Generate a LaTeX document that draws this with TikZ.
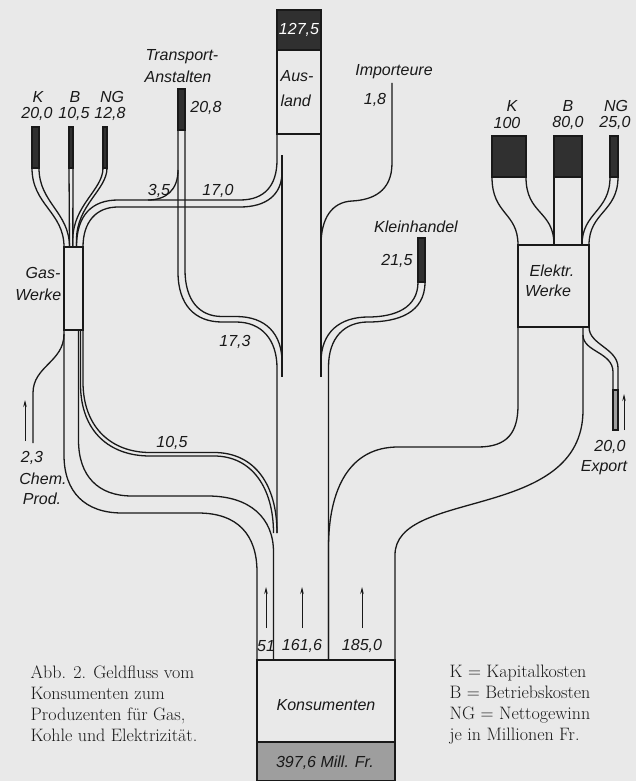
\documentclass[tikz,border=0pt]{standalone}
\usepackage{fontspec}
\newfontfamily\lab{Liberation Sans}
\usetikzlibrary{arrows.meta}
\definecolor{bg}{RGB}{233,233,233}
\definecolor{ink}{RGB}{25,25,25}
\definecolor{dk}{RGB}{48,48,48}
\definecolor{hatchc}{RGB}{158,158,158}
\begin{document}
\begin{tikzpicture}[x=1pt,y=-1pt,line width=1.3pt,
  lbl/.style={font=\lab\itshape\fontsize{16}{16}\selectfont,text=ink,inner sep=0pt},
  wlbl/.style={lbl,text=white},
  captxt/.style={font=\fontsize{18}{22}\selectfont,text=ink,inner sep=0pt,anchor=base west},
  ln/.style={draw=ink,line width=1.3pt},
  upar/.style={draw=ink,line width=0.8pt,-{Stealth[length=7pt,width=3.5pt]}}]
\fill[bg] (0,0) rectangle (636,781);
\useasboundingbox (0,0) rectangle (636,781);

% ---------- Ausland column ----------
\fill[dk] (277,10) rectangle (321,50);
\draw[ln] (277,10) rectangle (321,134);
\draw[ln] (277,50) -- (321,50);
\draw[ln] (321,134) -- (321,377);
\node[wlbl] (v127) at (299,30) {127,5};
\node[lbl,anchor=west] (aus1) at (280,76) {Aus-};
\node[lbl,anchor=west] (aus2) at (280,101) {land};

% ---------- Gas works ----------
\draw[ln] (64,247) rectangle (83,330);
\node[lbl,anchor=east] (gas1) at (61,273) {Gas-};
\node[lbl,anchor=east] (gas2) at (62,295) {Werke};

\fill[dk] (32,127) rectangle (39,168);
\fill[dk] (69,127) rectangle (73,168);
\fill[dk] (103,127) rectangle (107,168);
\draw[ln] (32,127) rectangle (39,168);
\draw[ln] (69,127) rectangle (73,168);
\draw[ln] (103,127) rectangle (107,168);
\node[lbl] (gk) at (38,97) {K};
\node[lbl] (gkv) at (37,114) {20,0};
\node[lbl] (gb) at (75,97) {B};
\node[lbl] (gbv) at (74,114) {10,5};
\node[lbl] (gng) at (112,97) {NG};
\node[lbl] (gngv) at (110,114) {12,8};

\draw[ln] (32,168) .. controls (32,205) and (64,212) .. (64,247);
\draw[ln] (39,168) .. controls (39,203) and (69.5,212) .. (69.5,247);
\draw[ln] (69,168) -- (69.5,247);
\draw[ln] (73,168) -- (72.8,247);
\draw[ln] (103,168) .. controls (103,190) and (72.8,205) .. (72.8,240) -- (72.8,247);
\draw[ln] (107,168) .. controls (107,190) and (76.5,205) .. (76.5,240) -- (76.5,247);

% outflow 17,0 (+3,5) to Ausland
\draw[ln] (76.5,247) .. controls (76.5,215) and (92,200) .. (118,200) -- (240,200) .. controls (265,200) and (277,185) .. (277,160) -- (277,134);
\draw[ln] (83,247) .. controls (83,222) and (96,207) .. (118,207) -- (240,207) .. controls (266,207) and (282,195) .. (282,172);
\draw[ln] (282,155) -- (282,377);
\node[lbl] (v170) at (218,191) {17,0};
\node[lbl] (v35) at (159,191) {3,5};

% ---------- Transport-Anstalten ----------
\fill[dk] (178,89) rectangle (185,130);
\draw[ln] (178,89) rectangle (185,130);
\node[lbl] (tr1) at (182,57) {Transport-};
\node[lbl] (tr2) at (178,77) {Anstalten};
\node[lbl] (v208) at (206,108) {20,8};
\draw[ln] (148,200) .. controls (166,200) and (178,190) .. (178,170);
\draw[ln] (178,130) -- (178,272) .. controls (178,305) and (195,322) .. (222,322) -- (236,322) .. controls (262,322) and (277,340) .. (277,368) -- (277,533);
\draw[ln] (185,130) -- (185,270) .. controls (185,300) and (199,316.5) .. (222,316.5) -- (236,316.5) .. controls (266,316.5) and (282,334) .. (282,362);
\node[lbl] (v173) at (235,342) {17,3};

% ---------- Importeure ----------
\node[lbl] (imp) at (394,72) {Importeure};
\node[lbl] (v18) at (375,100) {1,8};
\draw[ln] (392,83) -- (392,163) .. controls (392,192) and (372,200) .. (352,201) .. controls (332,202) and (321,218) .. (321,245);

% ---------- Kleinhandel ----------
\node[lbl] (kl) at (416,227) {Kleinhandel};
\node[lbl] (v215) at (397,261) {21,5};
\fill[dk] (418,238) rectangle (425,282);
\draw[ln] (418,238) rectangle (425,282);
\draw[ln] (418,282) .. controls (418,308) and (395,317) .. (368,317) .. controls (340,317) and (321,332) .. (321,362);
\draw[ln] (425,282) .. controls (425,313) and (398,322) .. (368,322) .. controls (345,322) and (328.5,337) .. (328.5,367) -- (328.5,660);

% ---------- Chem. Prod. ----------
\draw[ln] (33,443) -- (33,393) .. controls (33,366) and (64,362) .. (64,334);
\coordinate (chA) at (25,441);
\coordinate (chB) at (25,400);
\draw[upar] (chA) -- (chB);
\node[lbl] (v23) at (32,458) {2,3};
\node[lbl] (chem) at (43,479) {Chem.};
\node[lbl] (prod) at (42,499) {Prod.};

% ---------- gas streams down (51 and 10,5) ----------
\draw[ln] (64,330) -- (64,455) .. controls (64,492) and (85,513) .. (122,513) -- (198,513) .. controls (238,513) and (257,535) .. (257,572) -- (257,660);
\draw[ln] (78.5,330) -- (78.5,440) .. controls (78.5,476) and (98,496) .. (132,496) -- (208,496) .. controls (250,496) and (273.5,518) .. (273.5,552) -- (273.5,660);
\draw[ln] (83,330) -- (83,382) .. controls (83,428) and (112,452.5) .. (150,452.5) -- (214,452.5) .. controls (255,452.5) and (277,485) .. (277,533);
\draw[ln] (80.5,330) -- (80.5,384) .. controls (80.5,432) and (110,456) .. (150,456) -- (214,456) .. controls (252,456) and (273.5,488) .. (273.5,533);
\node[lbl] (v105) at (172,443) {10,5};

% ---------- Electricity ----------
\draw[ln] (518,245) rectangle (589,327);
\node[lbl] (el1) at (552,271) {Elektr.};
\node[lbl] (el2) at (548,291) {Werke};
\fill[dk] (492,136) rectangle (526,177);
\fill[dk] (554,136) rectangle (582,177);
\fill[dk] (610,136) rectangle (618,177);
\draw[ln] (492,136) rectangle (526,177);
\draw[ln] (554,136) rectangle (582,177);
\draw[ln] (610,136) rectangle (618,177);
\node[lbl] (ek) at (512,106) {K};
\node[lbl] (ekv) at (507,123) {100};
\node[lbl] (eb) at (568,106) {B};
\node[lbl] (ebv) at (568,123) {80,0};
\node[lbl] (eng) at (616,106) {NG};
\node[lbl] (engv) at (615,123) {25,0};
\draw[ln] (492,177) .. controls (492,215) and (518,212) .. (518,245);
\draw[ln] (526,177) .. controls (526,215) and (554,210) .. (554,245);
\draw[ln] (554,177) -- (554,245);
\draw[ln] (582,177) -- (582,245);
\draw[ln] (610,177) .. controls (610,212) and (582,212) .. (582,245);
\draw[ln] (618,177) .. controls (618,212) and (589,212) .. (589,245);

% 185 stream
\draw[ln] (328.5,660) -- (328.5,548) .. controls (328.5,488) and (350,447) .. (398,447) -- (478,447) .. controls (508,447) and (518,432) .. (518,405) -- (518,327);
\draw[ln] (395,660) -- (395,555) .. controls (395,488) and (583,522) .. (583,410) -- (583,327);

% export
\draw[ln] (583,335) .. controls (583,352) and (613,352) .. (613,372) -- (613,390);
\draw[ln] (589,327) .. controls (589,345) and (618,348) .. (618,368) -- (618,390);
\fill[hatchc] (613,390) rectangle (618,430);
\draw[ln] (613,390) rectangle (618,430);
\coordinate (exA) at (624,430);
\coordinate (exB) at (624,394);
\draw[upar] (exA) -- (exB);
\node[lbl] (v200) at (610,447) {20,0};
\node[lbl] (exp) at (604,468) {Export};

% ---------- Konsumenten ----------
\draw[ln] (257,660) rectangle (395,742);
\fill[hatchc] (257,742) rectangle (395,781);
\draw[ln] (257,742) rectangle (395,781);
\node[lbl] (kons) at (326,705) {Konsumenten};
\node[lbl] (mill) at (325,763) {397,6 Mill. Fr.};
\node[lbl] (v51) at (266,646) {51};
\node[lbl] (v1616) at (302,646) {161,6};
\node[lbl] (v185) at (362,646) {185,0};
\coordinate (a1) at (266,628); \coordinate (b1) at (266,587);
\coordinate (a2) at (302,628); \coordinate (b2) at (302,587);
\coordinate (a3) at (362,628); \coordinate (b3) at (362,587);
\draw[upar] (a1) -- (b1);
\draw[upar] (a2) -- (b2);
\draw[upar] (a3) -- (b3);

% ---------- captions ----------
\node[captxt] (c1) at (30,678) {Abb. 2. Geldfluss vom};
\node[captxt] (c2) at (30,699) {Konsumenten zum};
\node[captxt] (c3) at (30,720) {Produzenten für Gas,};
\node[captxt] (c4) at (30,741) {Kohle und Elektrizität.};

\node[captxt] (l1) at (449,677) {K = Kapitalkosten};
\node[captxt] (l2) at (449,698) {B = Betriebskosten};
\node[captxt] (l3) at (449,719) {NG = Nettogewinn};
\node[captxt] (l4) at (449,740) {je in Millionen Fr.};
\end{tikzpicture}
\end{document}
